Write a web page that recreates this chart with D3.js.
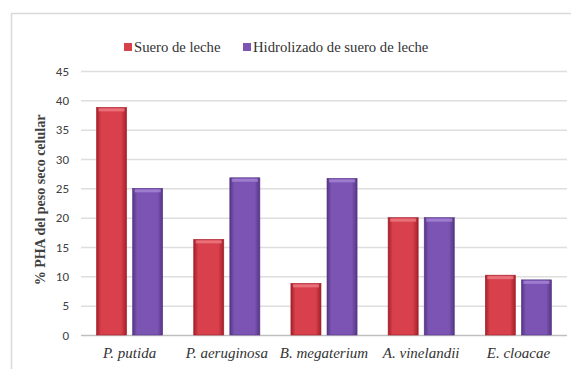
<!DOCTYPE html>
<html>
<head>
<meta charset="utf-8">
<script src="https://cdn.jsdelivr.net/npm/d3@7"></script>
<style>
  body { margin: 0; background: #fff; }
  svg { display: block; }
</style>
</head>
<body>
<div id="chart"></div>
<script>
// categories and series
const categories = ['P. putida', 'P. aeruginosa', 'B. megaterium', 'A. vinelandii', 'E. cloacae'];
const seriesNames = ['Suero de leche', 'Hidrolizado de suero de leche'];
const suero = [38.8, 16.3, 8.8, 20, 10.2];
const hidrolizado = [25, 26.8, 26.7, 20, 9.4];
const yTicks = [0, 5, 10, 15, 20, 25, 30, 35, 40, 45];

const SERIF = '"Liberation Serif", "Times New Roman", serif';
const SANS = 'Carlito, "Liberation Sans", sans-serif';

const width = 571, height = 369;
const margin = {left: 81, right: 4, top: 71, bottom: 34};

const svg = d3.select('#chart').append('svg')
  .attr('width', width)
  .attr('height', height);

// outer chart frame
svg.append('rect')
  .attr('x', 11.5).attr('y', 13.5)
  .attr('width', 580).attr('height', 380)
  .attr('fill', '#fff')
  .attr('stroke', '#d9d9d9')
  .attr('stroke-width', 1.5);

const colors = [
  {mid: '#d8404b', edge: '#a31f2a', top: '#ee7c85'},
  {mid: '#7c55b4', edge: '#553585', top: '#a584d4'}
];

const defs = svg.append('defs');
colors.forEach((c, i) => {
  const g = defs.append('linearGradient')
    .attr('id', 'grad' + i)
    .attr('x1', '0%').attr('x2', '100%').attr('y1', '0%').attr('y2', '0%');
  g.append('stop').attr('offset', '0%').attr('stop-color', c.edge);
  g.append('stop').attr('offset', '15%').attr('stop-color', c.mid);
  g.append('stop').attr('offset', '82%').attr('stop-color', c.mid);
  g.append('stop').attr('offset', '100%').attr('stop-color', c.edge);
});

const x = d3.scaleBand()
  .domain(categories)
  .range([margin.left, width - margin.right]);

const xInner = d3.scaleBand()
  .domain([0, 1])
  .range([0, x.bandwidth()])
  .paddingInner(0.167)
  .paddingOuter(0.43);

const y = d3.scaleLinear()
  .domain([0, 45])
  .range([height - margin.bottom, margin.top]);

// gridlines
svg.append('g')
  .selectAll('line')
  .data(yTicks)
  .join('line')
  .attr('x1', margin.left)
  .attr('x2', width - margin.right)
  .attr('y1', d => y(d) + 0.5)
  .attr('y2', d => y(d) + 0.5)
  .attr('stroke', d => d === 0 ? '#bfbfbf' : '#dedede')
  .attr('stroke-width', 1.5);

// y axis labels
const yAxis = d3.axisLeft(y).tickValues(yTicks).tickSize(0).tickPadding(12);
svg.append('g')
  .attr('transform', 'translate(' + margin.left + ',0)')
  .call(yAxis)
  .call(g => g.select('.domain').remove())
  .selectAll('text')
  .style('font-family', SANS)
  .style('font-size', '13px')
  .attr('fill', '#404040');

// bars
const series = [suero, hidrolizado];
series.forEach((vals, s) => {
  const g = svg.append('g');
  const bars = g.selectAll('g')
    .data(vals)
    .join('g')
    .attr('transform', (d, i) => 'translate(' + (x(categories[i]) + xInner(s)) + ',0)');
  bars.append('rect')
    .attr('x', 0)
    .attr('y', d => y(d))
    .attr('width', xInner.bandwidth())
    .attr('height', d => y(0) - y(d))
    .attr('fill', 'url(#grad' + s + ')')
    .attr('stroke', colors[s].edge)
    .attr('stroke-width', 0.6);
  bars.append('rect')
    .attr('x', 2)
    .attr('y', d => y(d) + 1)
    .attr('width', xInner.bandwidth() - 4)
    .attr('height', 3)
    .attr('fill', colors[s].top)
    .attr('opacity', 0.8);
});

// x axis labels
const xAxis = d3.axisBottom(x).tickSize(0).tickPadding(12);
svg.append('g')
  .attr('transform', 'translate(0,' + y(0) + ')')
  .call(xAxis)
  .call(g => g.select('.domain').remove())
  .selectAll('text')
  .style('font-family', SERIF)
  .style('font-style', 'italic')
  .style('font-size', '15px')
  .attr('fill', '#333');

// y axis title
svg.append('text')
  .attr('transform', 'translate(45,200) rotate(-90)')
  .attr('text-anchor', 'middle')
  .style('font-family', SERIF)
  .style('font-size', '14px')
  .style('font-weight', 'bold')
  .attr('fill', '#404040')
  .text('% PHA del peso seco celular');

// legend
const legendX = [124, 243];
const legend = svg.append('g');
seriesNames.forEach((name, i) => {
  legend.append('rect')
    .attr('x', legendX[i]).attr('y', 43)
    .attr('width', 8).attr('height', 8)
    .attr('fill', colors[i].mid);
  legend.append('text')
    .attr('x', legendX[i] + 10).attr('y', 52)
    .style('font-family', SERIF)
    .style('font-size', '14.7px')
    .attr('fill', '#333')
    .text(name);
});
</script>
</body>
</html>
